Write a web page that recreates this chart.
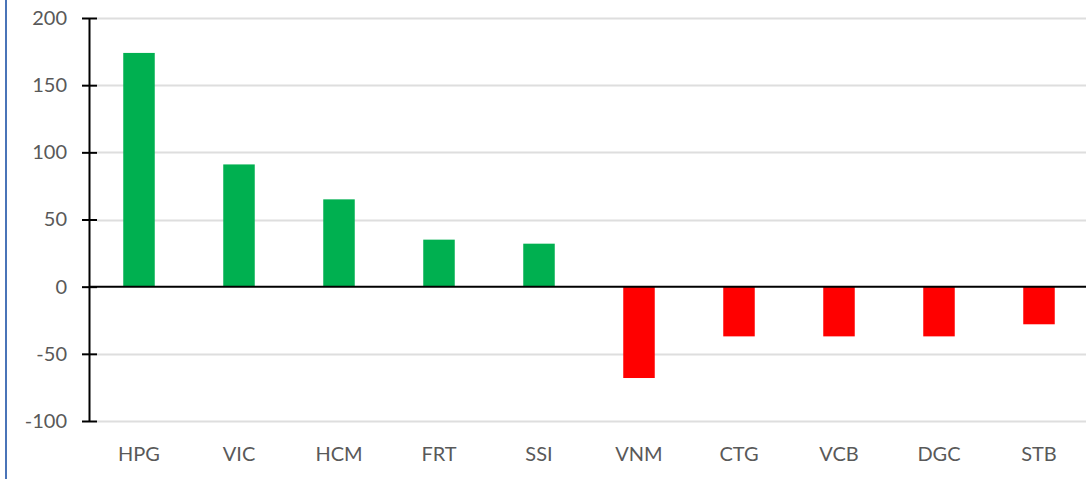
<!DOCTYPE html>
<html>
<head>
<meta charset="utf-8">
<script src="https://cdn.jsdelivr.net/npm/d3@7"></script>
<style>
  body { margin: 0; background: #fff; }
  text { font-family: Lato, "Open Sans", sans-serif; }
</style>
</head>
<body>
<div id="chart"></div>
<script>
// Data
const tickers = ["HPG", "VIC", "HCM", "FRT", "SSI", "VNM", "CTG", "VCB", "DGC", "STB"];
const values = [174, 91, 65, 35, 32, -68, -37, -37, -37, -28];
const yTicks = [200, 150, 100, 50, 0, -50, -100];

// Chart dimensions
const width = 1086;
const height = 479;
const margin = { top: 18, right: -3, bottom: 58, left: 89 };

const svg = d3
  .select("#chart")
  .append("svg")
  .attr("width", width)
  .attr("height", height);

// Left border of the chart area
svg
  .append("line")
  .attr("x1", 6)
  .attr("x2", 6)
  .attr("y1", 0)
  .attr("y2", height)
  .attr("stroke", "#4a74b8")
  .attr("stroke-width", 2);

// Scales
const x = d3
  .scaleBand()
  .domain(tickers)
  .range([margin.left, width - margin.right])
  .paddingInner(0.685)
  .paddingOuter(0.3425);

const y = d3
  .scaleLinear()
  .domain([-100, 200])
  .range([height - margin.bottom, margin.top]);

// Gridlines
svg
  .append("g")
  .selectAll("line")
  .data(yTicks.filter((d) => d !== 0))
  .join("line")
  .attr("x1", margin.left + 8)
  .attr("x2", width)
  .attr("y1", (d) => Math.round(y(d)) + 0.5)
  .attr("y2", (d) => Math.round(y(d)) + 0.5)
  .attr("stroke", "#dedede")
  .attr("stroke-width", 2);

// Bars
svg
  .append("g")
  .selectAll("rect")
  .data(values)
  .join("rect")
  .attr("x", (d, i) => x(tickers[i]))
  .attr("width", x.bandwidth())
  .attr("y", (d) => y(Math.max(0, d)))
  .attr("height", (d) => Math.abs(y(d) - y(0)))
  .attr("fill", (d) => (d >= 0 ? "#00b050" : "#ff0000"));

// Zero line
svg
  .append("line")
  .attr("x1", margin.left)
  .attr("x2", width)
  .attr("y1", y(0))
  .attr("y2", y(0))
  .attr("stroke", "#000")
  .attr("stroke-width", 2);

// Y axis with ticks crossing the line
const yAxis = svg
  .append("g")
  .attr("transform", `translate(${margin.left},0)`)
  .call(
    d3
      .axisLeft(y)
      .tickValues(yTicks)
      .tickFormat((d) => String(d)) // plain hyphen, not unicode minus
      .tickSizeInner(7)
      .tickSizeOuter(0)
      .tickPadding(15)
  );
yAxis.select(".domain").attr("stroke", "#000").attr("stroke-width", 2);
yAxis
  .selectAll(".tick line")
  .attr("x1", -7)
  .attr("x2", 8)
  .attr("stroke", "#000")
  .attr("stroke-width", 2);
yAxis
  .selectAll(".tick text")
  .attr("x", -22)
  .attr("fill", "#595959")
  .style("font-size", "20px")
  .style("font-family", "Lato, sans-serif");

// Category labels
svg
  .append("g")
  .selectAll("text")
  .data(tickers)
  .join("text")
  .attr("x", (d) => x(d) + x.bandwidth() / 2)
  .attr("y", 461)
  .attr("text-anchor", "middle")
  .attr("fill", "#595959")
  .style("font-size", "20px")
  .text((d) => d);
</script>
</body>
</html>
